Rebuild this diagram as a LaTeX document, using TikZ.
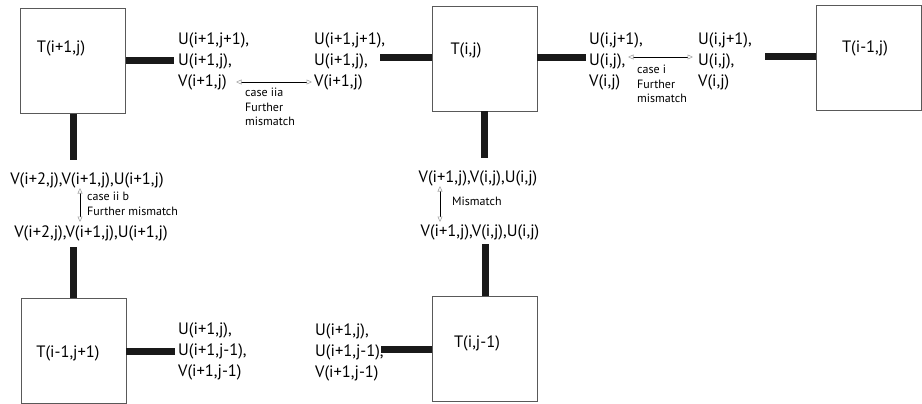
\documentclass[tikz,border=0pt]{standalone}
\usepackage{fontspec}
\setmainfont{PT Sans}
\usetikzlibrary{arrows.meta}
\tikzset{
  tbox/.style={draw=black!65, line width=0.9pt, minimum width=105pt, minimum height=105pt, inner sep=0pt},
  tname/.style={font=\fontsize{16.5}{18}\selectfont, inner sep=0pt},
  vals/.style={font=\fontsize{16.5}{21}\selectfont, align=left, inner sep=0pt, anchor=west},
  vline/.style={font=\fontsize{16.5}{18}\selectfont, inner sep=0pt},
  note/.style={font=\fontsize{12}{14.5}\selectfont, align=left, inner sep=0pt},
  bar/.style={line width=7pt, black!90},
  dblarrow/.style={line width=0.6pt, {Triangle[open,length=5.5pt,width=5pt,gray!70]}-{Triangle[open,length=5.5pt,width=5pt,gray!70]}}
}
\begin{document}
\begin{tikzpicture}[x=1pt,y=-1pt]
\useasboundingbox (0,0) rectangle (922,404);
% boxes
\node[tbox] (A) at (73,61) {};
\node[tname] at (61,48) {T(i+1,j)};
\node[tbox] (B) at (484.5,58.5) {};
\node[tname] at (466,50) {T(i,j)};
\node[tbox] (C) at (869,57.5) {};
\node[tname] at (865,48) {T(i-1,j)};
\node[tbox] (D) at (73.5,350.5) {};
\node[tname] at (68,353) {T(i-1,j+1)};
\node[tbox] (E) at (485,348.5) {};
\node[tname] at (477,343) {T(i,j-1)};
% value texts
\node[vals] (t1) at (178,61) {U(i+1,j+1),\\U(i+1,j),\\V(i+1,j)};
\node[vals] (t2) at (314,61) {U(i+1,j+1),\\U(i+1,j),\\V(i+1,j)};
\node[vals] (t3) at (589,61) {U(i,j+1),\\U(i,j),\\V(i,j)};
\node[vals] (t4) at (698,61) {U(i,j+1),\\U(i,j),\\V(i,j)};
\node[vals] (t5) at (178,351) {U(i+1,j),\\U(i+1,j-1),\\V(i+1,j-1)};
\node[vals] (t6) at (315,352) {U(i+1,j),\\U(i+1,j-1),\\V(i+1,j-1)};
\node[vline] (v1) at (87,180) {V(i+2,j),V(i+1,j),U(i+1,j)};
\node[vline] (v2) at (91,233) {V(i+2,j),V(i+1,j),U(i+1,j)};
\node[vline] (v3) at (478,178) {V(i+1,j),V(i,j),U(i,j)};
\node[vline] (v4) at (480,232) {V(i+1,j),V(i,j),U(i,j)};
% notes
\node[note, anchor=north west] (n1) at (245,88) {case iia\\Further\\mismatch};
\node[note, anchor=north west] (n2) at (637,65) {case i\\Further\\mismatch};
\node[note, anchor=north west] (n3) at (87,192) {case ii b\\Further mismatch};
\node[note, anchor=west] (n4) at (452,201) {Mismatch};
% bar ends
\coordinate (a1) at (174,61);
\coordinate (a2) at (73,160);
\coordinate (b1) at (380,58);
\coordinate (b2) at (586,58);
\coordinate (b3) at (484,158);
\coordinate (c1) at (765,57);
\coordinate (d1) at (73,247);
\coordinate (d2) at (175,351);
\coordinate (e1) at (485,244);
\coordinate (e2) at (381,349);
\draw[bar] (A.east |- a1) -- (a1);
\draw[bar] (A.south -| a2) -- (a2);
\draw[bar] (B.west |- b1) -- (b1);
\draw[bar] (B.east |- b2) -- (b2);
\draw[bar] (B.south -| b3) -- (b3);
\draw[bar] (C.west |- c1) -- (c1);
\draw[bar] (D.north -| d1) -- (d1);
\draw[bar] (D.east |- d2) -- (d2);
\draw[bar] (E.north -| e1) -- (e1);
\draw[bar] (E.west |- e2) -- (e2);
% mismatch arrows
\coordinate (p1) at (236,82); \coordinate (p2) at (312,82);
\coordinate (q1) at (628,57); \coordinate (q2) at (693,57);
\coordinate (r1) at (80,188); \coordinate (r2) at (80,222);
\coordinate (s1) at (440,186); \coordinate (s2) at (440,222);
\draw[dblarrow] (p1) -- (p2);
\draw[dblarrow] (q1) -- (q2);
\draw[dblarrow] (r1) -- (r2);
\draw[dblarrow] (s1) -- (s2);
\end{tikzpicture}
\end{document}
